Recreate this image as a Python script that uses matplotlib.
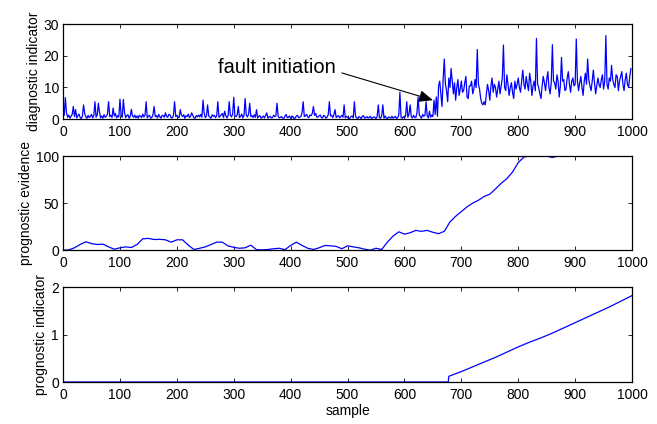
import matplotlib.pyplot as plt
import numpy as np

plt.rcParams['font.family'] = ['Liberation Sans', 'DejaVu Sans']

# diagnostic indicator, read every 2 samples
diag_x = np.arange(0, 1000, 2)
diag_y = [
    # 0..98
    4.5, 1.2, 6.8, 2.0, 0.6, 1.3, 0.3, 0.9, 1.5, 4.0, 0.8, 3.0, 0.4, 1.1, 1.6, 0.5, 0.2, 1.0, 4.5, 1.8,
    0.7, 0.3, 1.2, 0.5, 0.9, 1.5, 0.4, 1.1, 5.5, 0.6, 1.3, 5.0, 2.2, 0.4, 1.0, 0.3, 1.4, 0.6, 0.9, 1.6,
    5.5, 0.8, 1.2, 0.5, 3.5, 1.0, 1.8, 0.4, 1.1, 0.7,
    # 100..198
    6.3, 1.2, 0.6, 6.2, 2.0, 0.5, 1.1, 1.4, 0.3, 0.9, 3.1, 1.0, 0.6, 1.3, 0.4, 1.0, 0.3, 1.2, 0.9, 0.5,
    1.6, 0.7, 1.2, 5.5, 0.4, 1.0, 1.2, 0.3, 0.5, 1.4, 4.0, 0.8, 1.1, 0.4, 1.5, 0.8, 0.3, 1.2, 1.1, 0.6,
    2.0, 0.9, 0.6, 1.5, 1.3, 0.4, 0.4, 1.2, 5.5, 0.8,
    # 200..298
    1.2, 0.6, 0.5, 3.0, 1.4, 0.8, 1.4, 0.3, 1.1, 0.8, 1.6, 0.5, 0.9, 2.0, 1.2, 0.4, 0.3, 1.1, 0.7, 1.3,
    0.7, 1.5, 0.6, 6.0, 1.8, 0.5, 1.0, 4.5, 1.0, 0.6, 0.3, 1.4, 0.9, 1.2, 0.5, 1.0, 5.5, 0.6, 0.9, 1.4,
    1.8, 0.5, 2.5, 1.1, 0.4, 1.0, 5.5, 1.3, 0.7, 1.5,
    # 300..398
    6.9, 1.0, 0.8, 1.3, 4.0, 0.5, 0.9, 1.6, 0.4, 1.2, 6.5, 1.2, 0.7, 1.5, 5.0, 0.8, 1.1, 0.5, 1.4, 0.6,
    3.0, 0.4, 0.9, 1.1, 0.3, 0.6, 1.0, 0.4, 1.2, 2.0, 0.3, 0.7, 0.9, 0.4, 0.5, 1.2, 0.8, 1.0, 5.0, 0.9,
    0.4, 0.6, 0.8, 0.3, 0.3, 0.9, 1.5, 0.5, 0.6, 1.0,
    # 400..498
    0.3, 0.6, 0.9, 0.2, 0.4, 1.0, 1.2, 0.5, 0.6, 0.9, 2.0, 5.5, 0.8, 1.1, 1.5, 0.7, 0.5, 1.3, 1.1, 1.8,
    4.0, 1.2, 1.8, 0.6, 0.7, 1.0, 1.3, 0.5, 0.4, 1.2, 1.0, 0.3, 0.6, 1.4, 5.5, 1.0, 1.2, 0.5, 1.4, 3.0,
    0.5, 0.9, 1.1, 0.4, 0.8, 1.2, 0.6, 4.5, 0.4, 0.9,
    # 500..598
    0.6, 0.2, 0.3, 0.8, 1.0, 0.4, 5.5, 0.9, 0.4, 0.2, 0.8, 0.6, 0.2, 0.9, 1.1, 0.3, 0.5, 0.8, 0.3, 0.6,
    0.9, 0.2, 0.4, 0.7, 0.6, 0.2, 0.8, 4.5, 0.5, 0.3, 1.0, 4.5, 0.3, 1.0, 0.4, 0.2, 0.7, 0.5, 0.3, 0.9,
    0.3, 0.6, 0.9, 0.2, 0.5, 1.2, 8.5, 0.6, 0.3, 0.8,
    # 600..658
    0.4, 1.0, 5.5, 0.6, 1.5, 4.5, 0.8, 0.4, 1.2, 0.6, 0.5, 2.0, 7.0, 1.4, 0.8, 0.3, 1.5, 0.9, 1.2, 5.5,
    1.0, 0.4, 2.5, 0.6, 1.3, 0.8, 6.0, 1.5, 7.0, 0.9,
    # 660..698
    10.5, 12.0, 8.0, 4.0, 12.5, 19.0, 11.0, 9.0, 5.5, 13.0, 10.0, 16.0, 12.0, 8.0, 11.5, 6.0, 10.0, 12.5, 7.5, 9.5,
    # 700..798
    12.0, 8.5, 9.0, 11.5, 13.5, 7.0, 6.5, 10.5, 10.5, 12.0, 8.0, 9.5, 12.5, 10.0, 22.0, 11.0, 9.5, 6.5, 5.0, 4.5,
    5.5, 4.5, 8.0, 11.0, 9.0, 6.0, 10.5, 13.0, 8.5, 11.0, 10.0, 7.0, 9.5, 12.0, 8.0, 10.5, 13.0, 23.4, 10.0, 9.0,
    14.0, 11.0, 7.5, 10.0, 11.5, 8.5, 6.5, 12.0, 9.5, 11.0,
    # 800..898
    13.0, 10.0, 8.5, 12.0, 15.5, 11.0, 9.5, 13.5, 11.0, 9.0, 14.5, 12.0, 7.5, 10.5, 12.0, 9.0, 25.5, 11.0, 10.0, 8.0,
    6.5, 10.5, 13.5, 11.5, 9.0, 12.5, 15.0, 10.0, 8.0, 11.5, 23.5, 12.0, 11.5, 9.5, 14.0, 12.0, 7.0, 10.5, 19.5, 12.0,
    12.5, 9.0, 9.5, 13.0, 15.0, 11.0, 8.5, 12.0, 13.0, 10.5,
    # 900..998
    11.0, 25.3, 12.0, 9.0, 11.5, 13.5, 10.0, 7.5, 12.0, 14.5, 11.0, 19.0, 12.5, 10.5, 9.0, 12.0, 15.5, 11.5, 8.0, 10.5,
    13.0, 11.0, 10.0, 12.5, 14.0, 9.5, 12.0, 26.4, 11.0, 9.5, 13.0, 12.0, 17.0, 12.5, 11.0, 10.0, 14.0, 13.5, 9.0, 12.0,
    13.5, 15.0, 11.0, 9.0, 12.5, 14.5, 11.0, 10.0, 13.5, 16.0,
]

# prognostic evidence, read every 10 samples
evid_x = np.arange(0, 1001, 10)
evid_y = [
    0, 0.3, 2.5, 6, 8.9, 7, 6, 6.4, 3.5, 1,
    2.5, 3.5, 2.8, 6, 12, 12.5, 11.3, 11.5, 11, 8.5,
    11, 11, 5.3, 0.7, 2, 3.5, 6, 8.5, 8.5, 4.5,
    3, 2, 2.5, 5.3, 0.5, 0.3, 0.7, 1.5, 2, 0.5,
    5, 8.5, 5, 2, 0.7, 2.5, 5, 4.6, 4, 1.5,
    4.6, 3.5, 2.5, 1, 0, 2, 0.7, 8.5, 15, 19.5,
    17, 18.5, 21, 20, 21, 19, 17.5, 20, 30, 36,
    41, 46, 50, 53, 57, 59.5, 65, 71, 76, 83,
    93, 99, 100, 100, 100, 100, 98.5, 100, 100, 100,
    100, 100, 100, 100, 100, 100, 100, 100, 100, 100,
    100,
]

# prognostic indicator
prog_x = [0, 677, 678, 700, 720, 740, 760, 780, 800, 820, 840, 860, 880, 900, 920, 940, 960, 980, 1000]
prog_y = [0, 0, 0.12, 0.22, 0.32, 0.42, 0.52, 0.63, 0.74, 0.84, 0.93, 1.03, 1.14, 1.25, 1.36, 1.47, 1.58, 1.70, 1.82]

fig = plt.figure(figsize=(6.57, 4.24), dpi=100)
left, width = 0.096, 0.866
ax1 = fig.add_axes([left, 0.719, width, 0.224])
ax2 = fig.add_axes([left, 0.410, width, 0.222])
ax3 = fig.add_axes([left, 0.099, width, 0.224])

ax1.plot(diag_x, diag_y, color='#0000ff', lw=0.9)
ax2.plot(evid_x, evid_y, color='#0000ff', lw=0.9)
ax3.plot(prog_x, prog_y, color='#0000ff', lw=0.9)

ax1.set_ylim(0, 30)
ax1.set_yticks([0, 10, 20, 30])
ax2.set_ylim(0, 100)
ax2.set_yticks([0, 50, 100])
ax3.set_ylim(0, 2)
ax3.set_yticks([0, 1, 2])

for ax in (ax1, ax2, ax3):
    ax.set_xlim(0, 1000)
    ax.set_xticks(range(0, 1001, 100))
    ax.tick_params(direction='in', top=True, right=True, length=3, width=0.6, labelsize=10)
    ax.tick_params(axis='x', pad=4.5)
    ax.tick_params(axis='y', pad=3)
    for s in ax.spines.values():
        s.set_linewidth(0.9)

ax1.set_ylabel('diagnostic indicator', fontsize=10, labelpad=2)
ax2.set_ylabel('prognostic evidence', fontsize=10, labelpad=2)
ax3.set_ylabel('prognostic indicator', fontsize=10, labelpad=2)
ax3.set_xlabel('sample', fontsize=10, labelpad=1)

ax1.text(272, 14.5, 'fault initiation', fontsize=14.5, va='baseline')
ax1.annotate('', xy=(650, 6), xytext=(490, 14.6),
             arrowprops=dict(arrowstyle='-|>,head_length=0.7,head_width=0.3',
                             color='k', lw=0.8, mutation_scale=12,
                             shrinkA=0, shrinkB=0))

fig.savefig('out.png', dpi=100)
